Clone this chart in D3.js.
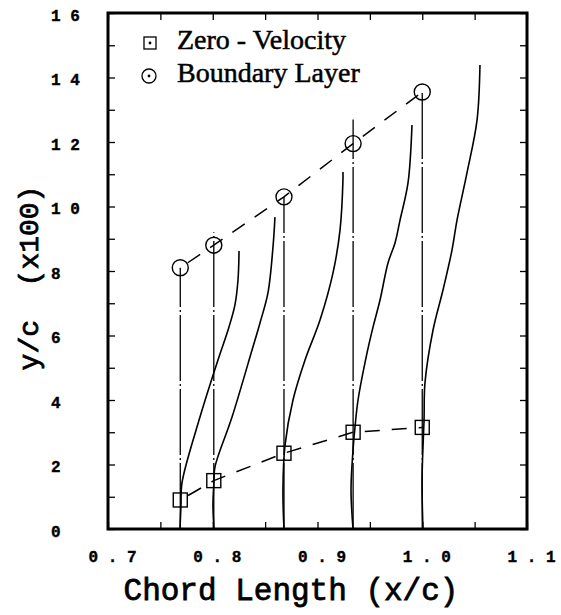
<!DOCTYPE html>
<html>
<head>
<meta charset="utf-8">
<script src="https://cdn.jsdelivr.net/npm/d3@7"></script>
<style>
  body { margin: 0; background: #fff; }
  .tick text { font-family: "Liberation Mono", monospace; font-weight: bold; font-size: 16px; }
</style>
</head>
<body>
<div id="chart"></div>
<script>
// measuring stations along the chord (x/c)
const stations = [0.769, 0.801, 0.868, 0.934, 1.0];
const zeroVelocity = [0.9, 1.5, 2.35, 3.0, 3.15];      // y/c x100
const boundaryLayer = [8.1, 8.8, 10.3, 11.95, 13.55];  // y/c x100
const stationTop = [8.1, 9.2, 10.3, 12.7, 13.55];      // where the dash-dot line stops

// velocity profiles, [x/c, y/c*100]
const profiles = [
  [[0.7687, 0], [0.7697, 0.74], [0.7706, 1.43], [0.7878, 3.47], [0.8050, 5.24],
   [0.8146, 6.17], [0.8212, 6.95], [0.8241, 7.72], [0.8251, 8.62]],
  [[0.8012, 0], [0.8002, 0.74], [0.8012, 1.49], [0.8021, 1.92], [0.8184, 3.47],
   [0.8375, 5.55], [0.8451, 6.39], [0.8527, 7.32], [0.8575, 8.74], [0.8594, 9.67]],
  [[0.868, 0], [0.867, 1.21], [0.869, 2.6], [0.8766, 4.0], [0.8881, 5.24],
   [0.9024, 6.48], [0.9148, 7.94], [0.9215, 9.27], [0.9243, 10.82], [0.9243, 11.07]],
  [[0.9339, 0], [0.932, 1.21], [0.9339, 2.45], [0.9358, 3.16], [0.9387, 4.0],
   [0.9473, 5.46], [0.953, 6.26], [0.9597, 7.1], [0.9673, 8.25], [0.974, 8.87],
   [0.9788, 9.58], [0.9864, 10.73], [0.9902, 12.53]],
  [[1.0007, 0], [0.9998, 1.52], [1.0017, 3.38], [1.0026, 4.53], [1.0103, 6.17],
   [1.0198, 7.41], [1.0284, 8.65], [1.0332, 9.58], [1.0427, 11.04], [1.0523, 12.68],
   [1.0551, 14.39]],
];

const xTicks = [0.7, 0.75, 0.8, 0.85, 0.9, 0.95, 1.0, 1.05, 1.1];
const xLabels = ['0.7', '0.8', '0.9', '1.0', '1.1'];
const yTicks = d3.range(0, 17);
const yLabels = ['0', '2', '4', '6', '8', '10', '12', '14', '16'];

const width = 561, height = 615;
const plotL = 108, plotR = 527, plotT = 13, plotB = 529;

const x = d3.scaleLinear().domain([0.7, 1.1]).range([plotL, plotR]);
const y = d3.scaleLinear().domain([0, 16]).range([plotB, plotT]);

const svg = d3.select('#chart').append('svg')
  .attr('width', width).attr('height', height);

const spaced = s => s.split('').join(' ');
const isMajorX = d => Math.abs(d * 10 - Math.round(d * 10)) < 1e-6 && xLabels.includes(d.toFixed(1));

// axes, ticks pointing inward
svg.append('g')
  .attr('transform', `translate(0,${plotB})`)
  .call(d3.axisBottom(x).tickValues(xTicks).tickSizeInner(-7).tickSizeOuter(0).tickPadding(22)
    .tickFormat(d => isMajorX(d) ? spaced(d.toFixed(1)) : ''))
  .call(g => g.select('.domain').remove())
  .call(g => g.selectAll('.tick text').attr('dx', 4));

svg.append('g')
  .attr('transform', `translate(0,${plotT})`)
  .call(d3.axisTop(x).tickValues(xTicks).tickSizeInner(-7).tickSizeOuter(0).tickFormat(''))
  .call(g => g.select('.domain').remove());

svg.append('g')
  .attr('transform', `translate(${plotL},0)`)
  .call(d3.axisLeft(y).tickValues(yTicks).tickSizeInner(-7).tickSizeOuter(0)
    .tickFormat(d => yLabels.includes(String(d)) ? spaced(String(d)) : ''))
  .call(g => g.select('.domain').remove())
  .call(g => g.selectAll('.tick text').attr('text-anchor', 'start').attr('x', 51 - plotL).attr('dy', '0.45em'));

svg.append('g')
  .attr('transform', `translate(${plotR},0)`)
  .call(d3.axisRight(y).tickValues(yTicks).tickSizeInner(-7).tickSizeOuter(0).tickFormat(''))
  .call(g => g.select('.domain').remove());

svg.selectAll('.tick line').attr('stroke', '#000').attr('stroke-width', 1.3);
svg.selectAll('.tick text').attr('stroke', '#000').attr('stroke-width', 0.4);

// frame
svg.append('rect')
  .attr('x', plotL).attr('y', plotT)
  .attr('width', plotR - plotL).attr('height', plotB - plotT)
  .attr('fill', 'none').attr('stroke', '#000').attr('stroke-width', 3);

// dash-dot station lines
svg.append('g').selectAll('line')
  .data(stations)
  .join('line')
  .attr('x1', d => x(d)).attr('x2', d => x(d))
  .attr('y1', y(0)).attr('y2', (d, i) => y(stationTop[i]))
  .attr('stroke', '#000').attr('stroke-width', 1.3)
  .attr('stroke-dasharray', '66,3,2,3');

// velocity profiles
const line = d3.line().x(d => x(d[0])).y(d => y(d[1])).curve(d3.curveCatmullRom);
svg.append('g').selectAll('path')
  .data(profiles)
  .join('path')
  .attr('d', line)
  .attr('fill', 'none').attr('stroke', '#000').attr('stroke-width', 1.6);

// dashed connecting lines
const pts = vals => stations.map((s, i) => [s, vals[i]]);
const straight = d3.line().x(d => x(d[0])).y(d => y(d[1]));
svg.append('path')
  .attr('d', straight(pts(boundaryLayer)))
  .attr('fill', 'none').attr('stroke', '#000').attr('stroke-width', 1.5)
  .attr('stroke-dasharray', '15,12').attr('stroke-dashoffset', -9);
svg.append('path')
  .attr('d', straight(pts(zeroVelocity)))
  .attr('fill', 'none').attr('stroke', '#000').attr('stroke-width', 1.5)
  .attr('stroke-dasharray', '15,12').attr('stroke-dashoffset', -9);

// markers
svg.append('g').selectAll('rect')
  .data(pts(zeroVelocity))
  .join('rect')
  .attr('x', d => x(d[0]) - 7).attr('y', d => y(d[1]) - 7)
  .attr('width', 14).attr('height', 14)
  .attr('fill', 'none').attr('stroke', '#000').attr('stroke-width', 1.4);

svg.append('g').selectAll('circle')
  .data(pts(boundaryLayer))
  .join('circle')
  .attr('cx', d => x(d[0])).attr('cy', d => y(d[1])).attr('r', 8)
  .attr('fill', 'none').attr('stroke', '#000').attr('stroke-width', 1.4);

// legend
const legend = svg.append('g');
legend.append('rect').attr('x', 144).attr('y', 37).attr('width', 12).attr('height', 12)
  .attr('fill', 'none').attr('stroke', '#000').attr('stroke-width', 1.3);
legend.append('circle').attr('cx', 150).attr('cy', 43).attr('r', 1.4);
legend.append('circle').attr('cx', 149).attr('cy', 76).attr('r', 7)
  .attr('fill', 'none').attr('stroke', '#000').attr('stroke-width', 1.3);
legend.append('circle').attr('cx', 149).attr('cy', 76).attr('r', 1.4);
legend.selectAll('text')
  .data(['Zero - Velocity', 'Boundary Layer'])
  .join('text')
  .attr('x', 177).attr('y', (d, i) => 49 + i * 33)
  .attr('font-family', '"Liberation Serif", serif')
  .attr('font-size', 28)
  .attr('stroke', '#000').attr('stroke-width', 0.5)
  .text(d => d);

// axis titles
svg.append('text')
  .attr('x', 291).attr('y', 600)
  .attr('text-anchor', 'middle')
  .attr('font-family', '"Liberation Mono", monospace')
  .attr('font-size', 31)
  .attr('stroke', '#000').attr('stroke-width', 0.8)
  .text('Chord Length (x/c)');

svg.append('text')
  .attr('transform', 'translate(38,278) rotate(-90)')
  .attr('text-anchor', 'middle')
  .attr('font-family', '"Liberation Mono", monospace')
  .attr('font-size', 28)
  .attr('stroke', '#000').attr('stroke-width', 0.8)
  .style('white-space', 'pre')
  .text('y/c  (x100)');
</script>
</body>
</html>
